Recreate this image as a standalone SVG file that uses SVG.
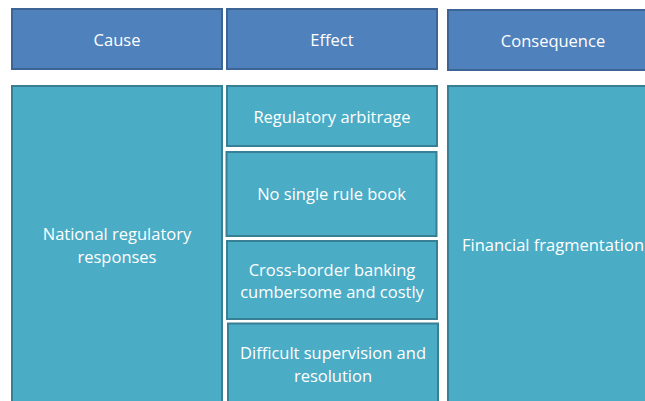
<svg xmlns="http://www.w3.org/2000/svg" width="645" height="401" viewBox="0 0 645 401">
<style>
.hd{fill:#4F81BD;stroke:#3C6596;stroke-width:2}
.bd{fill:#4BACC6;stroke:#367F94;stroke-width:2}
text{font-family:"Open Sans","Liberation Sans",sans-serif;font-size:16.5px;fill:#FFFFFF;text-anchor:middle}
</style>
<rect width="645" height="401" fill="#FFFFFF"/>
<g id="cause-header"><rect class="hd" x="12" y="9" width="210" height="60"/><text x="117" y="46">Cause</text></g>
<g id="effect-header"><rect class="hd" x="227" y="9" width="210" height="60"/><text x="332" y="46">Effect</text></g>
<g id="consequence-header"><rect class="hd" x="448" y="10" width="210" height="60"/><text x="553" y="47">Consequence</text></g>
<g id="cause-body"><rect class="bd" x="12" y="86" width="210" height="330"/><text x="117" y="240">National regulatory</text><text x="117" y="263">responses</text></g>
<g id="effect-1"><rect class="bd" x="227" y="86" width="210" height="60"/><text x="332" y="123">Regulatory arbitrage</text></g>
<g id="effect-2"><rect class="bd" x="226.5" y="152" width="210" height="84"/><text x="331.5" y="200">No single rule book</text></g>
<g id="effect-3"><rect class="bd" x="227" y="241" width="210" height="78"/><text x="332" y="276">Cross-border banking</text><text x="332" y="298">cumbersome and costly</text></g>
<g id="effect-4"><rect class="bd" x="228" y="323.5" width="210" height="90"/><text x="333" y="359">Difficult supervision and</text><text x="333" y="382">resolution</text></g>
<g id="consequence-body"><rect class="bd" x="448" y="86" width="210" height="330"/><text x="553" y="251">Financial fragmentation</text></g>
<g id="connectors"></g>
</svg>
